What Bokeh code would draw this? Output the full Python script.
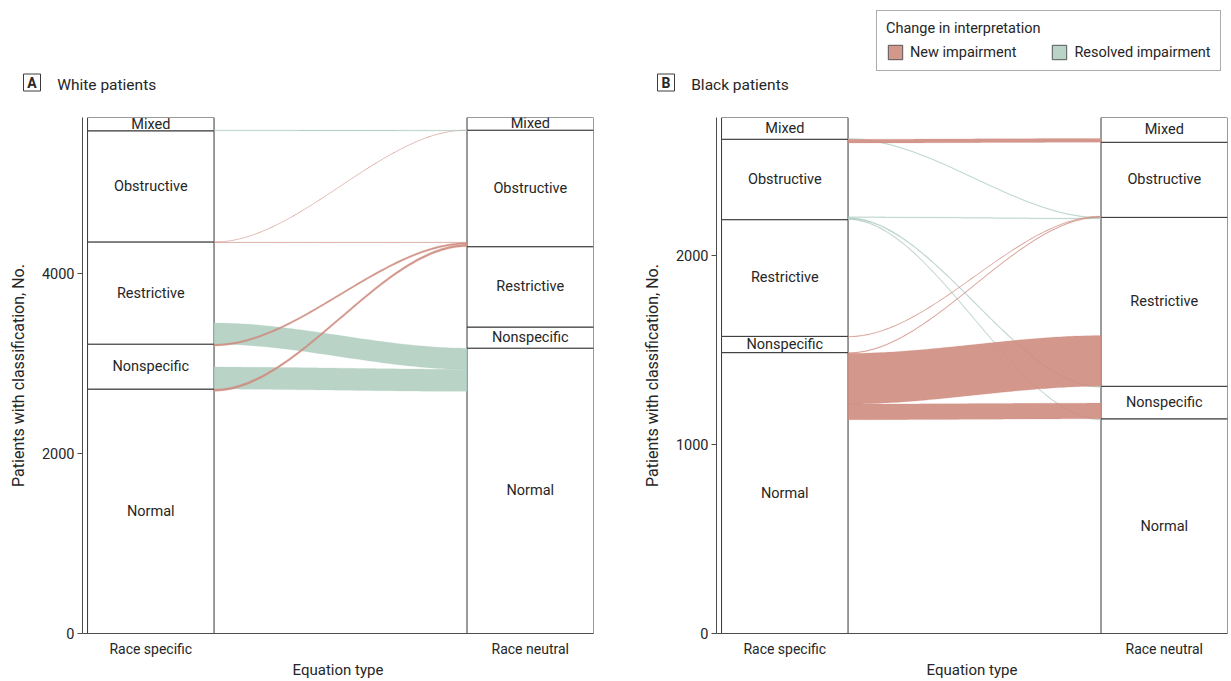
import numpy as np
from bokeh.plotting import figure
from bokeh.models import (ColumnDataSource, FixedTicker, Legend,
                          LegendItem, Range1d)
from bokeh.layouts import row, column
from bokeh.embed import file_html
from bokeh.resources import INLINE
from bokeh.core.properties import value

# ---------------- data ----------------
categories = ["Normal", "Nonspecific", "Restrictive", "Obstructive", "Mixed"]  # bottom -> top
equation_types = ["Race specific", "Race neutral"]
change_types = ["New impairment", "Resolved impairment"]
change_colors = ["#CF8C80", "#B1CEC1"]
panel_letters = ["A", "B"]
panel_titles = ["White patients", "Black patients"]
legend_title = "Change in interpretation"

# Panel A: White patients
white_specific = [2719, 500, 1137, 1236, 148]
white_from = ["Restrictive", "Nonspecific", "Normal", "Nonspecific",
              "Restrictive", "Restrictive", "Mixed"]
white_to = ["Normal", "Normal", "Obstructive", "Obstructive",
            "Obstructive", "Mixed", "Obstructive"]
white_n = [235, 245, 25, 20, 5, 3, 10]
white_change = ["Resolved impairment", "Resolved impairment", "New impairment",
                "New impairment", "New impairment", "New impairment",
                "Resolved impairment"]
white_ticks = [0, 2000, 4000]

# Panel B: Black patients
black_specific = [1485, 86, 617, 425, 115]
black_from = ["Obstructive", "Obstructive", "Obstructive", "Mixed",
              "Normal", "Normal", "Normal", "Nonspecific", "Obstructive"]
black_to = ["Normal", "Nonspecific", "Restrictive", "Restrictive",
            "Restrictive", "Nonspecific", "Obstructive", "Obstructive", "Mixed"]
black_n = [5, 6, 4, 4, 268, 83, 4, 3, 20]
black_change = ["Resolved impairment", "Resolved impairment", "Resolved impairment",
                "Resolved impairment", "New impairment", "New impairment",
                "New impairment", "New impairment", "New impairment"]
black_ticks = [0, 1000, 2000]

# ---------------- layout constants ----------------
FONT = "Roboto"
TXT = "#262626"
AXC = "#4d4d4d"
PAGE_W = 1231
TOP_H = 100           # heading / legend strip
PANEL_H = 581
BORDER_TOP = 17
BORDER_BOTTOM = 48
FRAME_W = 511
HALF = 1 / 6
X_START = 0.82
X_END = 2 + HALF
A_LEFT, A_RIGHT = 82, 39
B_LEFT, B_RIGHT = 84, 4


def build(specific, src, dst, counts, change, yticks, border_left, border_right):
    k = len(categories)
    idx = {c: i for i, c in enumerate(categories)}
    M = np.zeros((k, k))
    for s, d, n in zip(src, dst, counts):
        M[idx[s], idx[d]] += n
    for i in range(k):
        M[i, i] = specific[i] - M[i].sum()
    left_tot = M.sum(axis=1)
    right_tot = M.sum(axis=0)
    total = left_tot.sum()
    left_base = np.cumsum(left_tot) - left_tot
    right_base = np.cumsum(right_tot) - right_tot
    left_off = left_base[:, None] + np.cumsum(M, axis=1) - M
    right_off = right_base[None, :] + np.cumsum(M, axis=0) - M

    width = border_left + FRAME_W + border_right
    p = figure(width=width, height=PANEL_H,
               x_range=Range1d(X_START, X_END), y_range=Range1d(0, total),
               output_backend="svg", toolbar_location=None,
               min_border_left=border_left, min_border_right=border_right,
               min_border_top=BORDER_TOP, min_border_bottom=BORDER_BOTTOM)
    p.outline_line_color = None
    p.grid.visible = False
    p.background_fill_color = "white"
    p.border_fill_color = "white"

    # strata boxes
    for xc, tot, base in [(1, left_tot, left_base), (2, right_tot, right_base)]:
        p.quad(left=xc - HALF, right=xc + HALF, bottom=base, top=base + tot,
               fill_color="white", line_color="#363636", line_width=1)

    # flows (only changed classifications are coloured)
    x0, x1 = 1 + HALF, 2 - HALF
    t = np.linspace(0, 1, 80)
    sm = t * t * (3 - 2 * t)
    xl = x0 + (x1 - x0) * t
    xs, ys, cols = [], [], []
    for s, d, n, ch in zip(src, dst, counts, change):
        i, j = idx[s], idx[d]
        yb = left_off[i, j] + (right_off[i, j] - left_off[i, j]) * sm
        xs.append(np.concatenate([xl, xl[::-1]]))
        ys.append(np.concatenate([yb, (yb + n)[::-1]]))
        cols.append(change_colors[change_types.index(ch)])
    p.patches(xs="xs", ys="ys", fill_color="color", line_color="color",
              fill_alpha=0.9, line_alpha=0.45, line_width=0.45,
              source=ColumnDataSource(dict(xs=xs, ys=ys, color=cols)))

    # strata labels
    for xc, tot, base in [(1, left_tot, left_base), (2, right_tot, right_base)]:
        p.text(x=[xc] * k, y=list(base + tot / 2), text=categories,
               text_align="center", text_baseline="middle",
               text_font=value(FONT), text_font_size="14.5px", text_color=TXT)

    # axes
    p.xaxis.ticker = FixedTicker(ticks=[1, 2])
    p.xaxis.major_label_overrides = {1: equation_types[0], 2: equation_types[1]}
    p.xaxis.axis_label = "Equation type"
    p.xaxis.major_tick_out = 0
    p.xaxis.major_tick_in = 0
    p.xaxis.minor_tick_line_color = None
    p.xaxis.major_label_standoff = 7
    p.xaxis.axis_label_standoff = 1

    p.yaxis.ticker = FixedTicker(ticks=yticks)
    p.yaxis.axis_label = "Patients with classification, No."
    p.yaxis.major_tick_out = 5
    p.yaxis.major_tick_in = 0
    p.yaxis.minor_tick_line_color = None
    p.yaxis.major_label_standoff = 3
    p.yaxis.axis_label_standoff = 11
    p.yaxis.major_label_orientation = "horizontal"

    for ax in (p.xaxis, p.yaxis):
        ax.axis_line_color = AXC
        ax.major_tick_line_color = AXC
        ax.major_label_text_font = FONT
        ax.major_label_text_color = TXT
        ax.axis_label_text_font = FONT
        ax.axis_label_text_font_style = "normal"
        ax.axis_label_text_color = TXT
    p.xaxis.major_label_text_font_size = "14px"
    p.xaxis.axis_label_text_font_size = "15px"
    p.yaxis.major_label_text_font_size = "14.5px"
    p.yaxis.axis_label_text_font_size = "16px"
    return p


pa = build(white_specific, white_from, white_to, white_n, white_change,
           white_ticks, A_LEFT, A_RIGHT)
pb = build(black_specific, black_from, black_to, black_n, black_change,
           black_ticks, B_LEFT, B_RIGHT)

# ---------------- heading strip: panel titles + legend ----------------
top = figure(width=PAGE_W, height=TOP_H, x_range=Range1d(0, PAGE_W),
             y_range=Range1d(TOP_H, 0), output_backend="svg",
             toolbar_location=None, min_border=0,
             x_axis_location=None, y_axis_location=None)
top.outline_line_color = None
top.grid.visible = False
top.background_fill_color = "white"
top.border_fill_color = "white"

frame_lefts = [A_LEFT, A_LEFT + FRAME_W + A_RIGHT + B_LEFT]
head_y = 83
box_x = [f - 50.5 for f in frame_lefts]
title_x = [f - 25.3 for f in frame_lefts]
top.rect(x=box_x, y=[head_y - 1] * 2, width=17, height=17,
         fill_color="white", line_color="#3c3c3c", line_width=1)
top.text(x=box_x, y=[head_y - 0.5] * 2, text=panel_letters,
         text_align="center", text_baseline="middle",
         text_font=value(FONT), text_font_size="14px",
         text_font_style="bold", text_color=TXT)
top.text(x=title_x, y=[head_y + 1] * 2, text=panel_titles,
         text_align="left", text_baseline="middle",
         text_font=value(FONT), text_font_size="15.5px", text_color=TXT)

# legend swatches: renderers hold one off-canvas placeholder so the legend draws them
off = -10 * TOP_H
rends = [top.quad(left=[off], right=[off + 1], top=[off], bottom=[off + 1],
                  fill_color=c, fill_alpha=0.9, line_color="#555555", line_width=1)
         for c in change_colors]
legend = Legend(
    items=[LegendItem(label=lab, renderers=[r])
           for lab, r in zip(change_types, rends)],
    location=(876, TOP_H - 71), orientation="horizontal",
    title=legend_title,
    title_text_font=FONT, title_text_font_size="14.5px",
    title_text_font_style="normal", title_text_color=TXT,
    title_standoff=6,
    label_text_font=FONT, label_text_font_size="14.5px",
    label_text_color=TXT, label_standoff=6,
    glyph_width=18, glyph_height=18, spacing=34,
    padding=9, margin=0,
    border_line_color="#5a5a5a", border_line_width=1,
    background_fill_color="white", background_fill_alpha=1)
top.add_layout(legend)

layout = column(top, row(pa, pb))
open("out.html", "w").write(file_html(layout, INLINE))
